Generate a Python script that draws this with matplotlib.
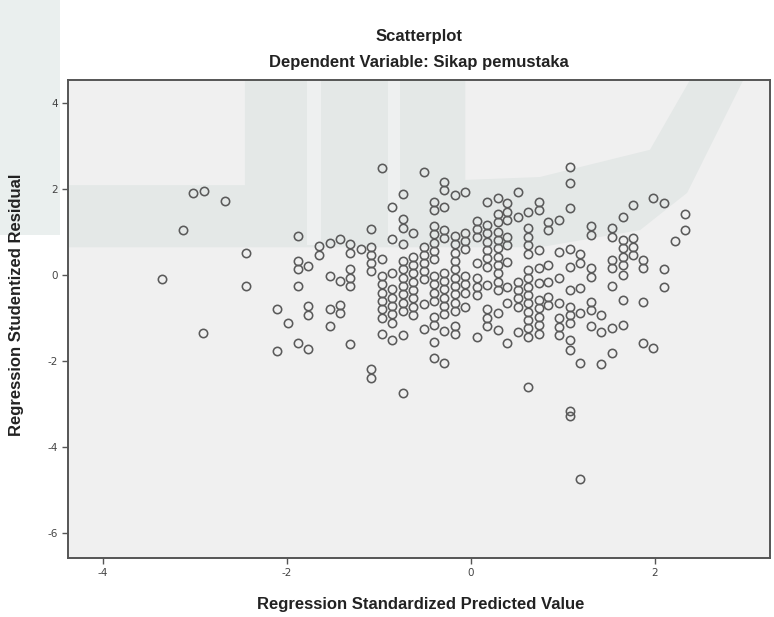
import matplotlib
matplotlib.use("Agg")
import matplotlib.pyplot as plt
from matplotlib.patches import Polygon, Rectangle

# predicted value (x) -> studentized residuals (y), grouped by x column
columns = [
    (-3.36, [-0.09]),
    (-3.13, [1.04]),
    (-3.02, [1.90]),
    (-2.90, [1.96]),
    (-2.91, [-1.34]),
    (-2.67, [1.73]),
    (-2.45, [0.52, -0.26]),
    (-2.11, [-0.80, -1.77]),
    (-1.99, [-1.11]),
    (-1.88, [0.91, 0.33, 0.13, -0.26, -1.59]),
    (-1.77, [0.21, -0.72, -0.93, -1.73]),
    (-1.65, [0.67, 0.47]),
    (-1.53, [0.75, -0.02, -0.80, -1.19]),
    (-1.42, [0.84, -0.14, -0.70, -0.89]),
    (-1.32, [0.71, 0.52, 0.13, -0.06, -0.26, -1.61]),
    (-1.20, [0.60]),
    (-1.09, [1.06, 0.66, 0.47, 0.27, 0.10, -2.19, -2.40]),
    (-0.97, [2.50, 0.37, -0.02, -0.22, -0.41, -0.60, -0.80, -0.99, -1.36]),
    (-0.86, [1.59, 0.83, 0.05, -0.33, -0.53, -0.72, -0.91, -1.11, -1.50]),
    (-0.74, [1.88, 1.30, 1.10, 0.71, 0.33, 0.13, -0.06, -0.26, -0.45, -0.64, -0.84, -1.40, -2.75]),
    (-0.63, [0.98, 0.43, 0.23, 0.04, -0.16, -0.35, -0.54, -0.74, -0.93]),
    (-0.51, [2.39, 0.66, 0.47, 0.27, 0.09, -0.10, -0.68, -1.26]),
    (-0.40, [1.70, 1.51, 1.14, 0.95, 0.75, 0.56, 0.37, -0.02, -0.22, -0.41, -0.60, -0.97, -1.16,
             -1.55, -1.94]),
    (-0.29, [2.17, 1.98, 1.59, 1.05, 0.85, 0.05, -0.14, -0.33, -0.53, -0.72, -0.91, -1.30, -2.05]),
    (-0.17, [1.86, 0.91, 0.71, 0.52, 0.33, 0.13, -0.06, -0.26, -0.45, -0.64, -0.84, -1.19, -1.38]),
    (-0.06, [1.94, 0.98, 0.79, 0.60, -0.02, -0.22, -0.41, -0.74]),
    (0.06, [1.26, 1.07, 0.88, 0.27, -0.08, -0.27, -0.47, -1.43]),
    (0.17, [1.70, 1.16, 0.97, 0.77, 0.58, 0.39, 0.19, -0.23, -0.80, -0.99, -1.19]),
    (0.29, [1.78, 1.43, 1.24, 1.01, 0.81, 0.62, 0.43, 0.23, 0.04, -0.16, -0.35, -0.89, -1.28]),
    (0.39, [1.68, 1.47, 1.28, 0.89, 0.70, 0.31, -0.27, -0.64, -1.59]),
    (0.51, [1.94, 1.36, -0.16, -0.35, -0.54, -0.74, -1.32]),
    (0.62, [1.47, 1.09, 0.89, 0.70, 0.50, 0.12, -0.08, -0.27, -0.47, -0.66, -0.85, -1.05, -1.24,
            -1.43, -2.61]),
    (0.74, [1.70, 1.51, 0.58, 0.16, -0.19, -0.58, -0.77, -0.97, -1.16, -1.36]),
    (0.84, [1.24, 1.05, 0.23, -0.16, -0.50, -0.70]),
    (0.96, [1.28, 0.54, -0.08, -0.66, -1.01, -1.20, -1.40]),
    (1.08, [2.52, 2.13, 1.55, 0.60, 0.19, -0.35, -0.74, -0.93, -1.12, -1.51, -1.74, -3.16, -3.27]),
    (1.19, [0.49, 0.29, -0.31, -0.88, -2.04, -4.74]),
    (1.30, [1.14, 0.93, 0.17, -0.04, -0.62, -0.81, -1.19]),
    (1.41, [-0.93, -1.32, -2.08]),
    (1.53, [1.09, 0.89, 0.35, 0.16, -0.26, -1.24, -1.81]),
    (1.65, [1.36, 0.81, 0.62, 0.43, 0.23, 0.00, -0.58, -1.16]),
    (1.76, [1.63, 0.85, 0.66, 0.47]),
    (1.87, [0.35, 0.16, -0.62, -1.57]),
    (1.98, [1.78, -1.69]),
    (2.10, [1.68, 0.13, -0.27]),
    (2.22, [0.79]),
    (2.33, [1.43, 1.05]),
]
predicted = [x for x, ys in columns for _ in ys]
residual = [y for _, ys in columns for y in ys]

x_ticks = [-4, -2, 0, 2]
y_ticks = [4, 2, 0, -2, -4, -6]

fig = plt.figure(figsize=(7.74, 6.17), dpi=100)

# faint watermark outside the plot, top-left corner (figure fractions), drawn below everything
fig.patches.append(Rectangle((0.0, 1 - 235 / 617), 60 / 774, 235 / 617, facecolor="#eaefee",
                             edgecolor="none", transform=fig.transFigure, zorder=-5))

ax = fig.add_axes([68 / 774, 1 - 558 / 617, 702 / 774, 478 / 617])
ax.set_facecolor("#f0f0f0")

# faint watermark behind the plot (axes fractions)
wm = ax.add_patch(Polygon([(0.0, 0.650), (0.672, 0.650), (0.815, 0.686), (0.882, 0.764),
                           (0.962, 1.0), (0.886, 1.0), (0.829, 0.854), (0.672, 0.797),
                           (0.566, 0.791), (0.566, 1.0), (0.252, 1.0), (0.252, 0.780),
                           (0.0, 0.780)], closed=True, facecolor="#e4e8e7", edgecolor="none",
                          zorder=0))
wm.set_transform(ax.transAxes)
for x0, w in [(0.340, 0.021), (0.456, 0.017)]:
    ax.add_patch(Rectangle((x0, 0.655), w, 0.345, facecolor="#eef0f0", edgecolor="none",
                           zorder=0.5, transform=ax.transAxes))

ax.plot(predicted, residual, "o", ls="", ms=6.0, mfc="none", mec="#5a5a5a", mew=1.15, zorder=3)

ax.set_xlim(-4.38, 3.25)
ax.set_ylim(-6.58, 4.535)
ax.set_xticks(x_ticks)
ax.set_xticklabels([str(t) for t in x_ticks])
ax.set_yticks(y_ticks)
ax.set_yticklabels([str(t) for t in y_ticks])
ax.tick_params(direction="out", length=4, width=1.0, color="#555555", labelsize=7.5,
               labelcolor="#444444", top=False, right=False)
for sp in ax.spines.values():
    sp.set_color("#555555")
    sp.set_linewidth(1.4)

font = "Liberation Sans"
fig.text(419 / 774, 1 - 37 / 617, "Scatterplot", ha="center", va="center",
         fontsize=12, fontweight="bold", family=font, color="#222222")
fig.text(419 / 774, 1 - 62 / 617, "Dependent Variable: Sikap pemustaka", ha="center",
         va="center", fontsize=12, fontweight="bold", family=font, color="#222222")
fig.text(421 / 774, 1 - 604 / 617, "Regression Standardized Predicted Value", ha="center",
         va="center", fontsize=12, fontweight="bold", family=font, color="#222222")
fig.text(17 / 774, 1 - 305 / 617, "Regression Studentized Residual", ha="center",
         va="center", rotation=90, fontsize=12, fontweight="bold", family=font, color="#222222")

fig.savefig("out.png", dpi=100)
